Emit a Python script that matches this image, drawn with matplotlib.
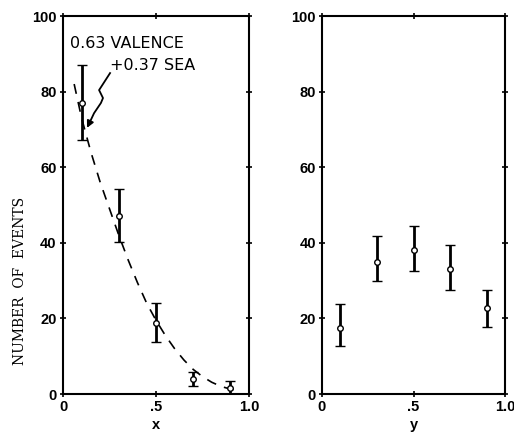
import matplotlib
matplotlib.use("Agg")
import matplotlib.pyplot as plt

# Left panel: x distribution
x_vals = [0.1, 0.3, 0.5, 0.7, 0.9]
x_counts = [77, 47, 18.7, 3.9, 1.5]
x_err_hi = [87, 54.2, 24, 5.7, 3.4]
x_err_lo = [67.2, 40.1, 13.7, 2.2, 0.0]

# Dashed model curve
curve_x = [0.06, 0.1, 0.15, 0.2, 0.25, 0.3, 0.35, 0.4, 0.45, 0.5, 0.55, 0.6,
           0.65, 0.7, 0.75, 0.8, 0.85, 0.9, 0.93]
curve_y = [82, 73, 64, 56, 49, 42, 35.5, 29.5, 24, 19.5, 15.5, 12,
           9, 6.5, 4.6, 3.1, 2.0, 1.3, 1.0]

# Right panel: y distribution
y_vals = [0.1, 0.3, 0.5, 0.7, 0.9]
y_counts = [17.5, 35, 38, 33, 22.8]
y_err_hi = [23.8, 41.8, 44.5, 39.5, 27.5]
y_err_lo = [12.6, 29.8, 32.5, 27.6, 17.6]

# Annotation arrow path (data coords, left panel)
arrow_x = [0.253, 0.194, 0.215, 0.204, 0.167, 0.145, 0.129]
arrow_y = [84.9, 80.4, 78.3, 77.0, 74.3, 72.0, 70.4]

yticks = [0, 20, 40, 60, 80, 100]
xticks = [0, 0.5, 1.0]
xticklabels = ["0", ".5", "1.0"]

fig = plt.figure(figsize=(5.14, 4.38), dpi=100)
axL = fig.add_axes([63/514, 44/438, 186/514, 378/438])
axR = fig.add_axes([322/514, 44/438, 183/514, 378/438])

tickfont = dict(family="Liberation Sans", size=10.5, weight="bold")

def style(ax, xlabel):
    ax.set_xlim(0, 1.0)
    ax.set_ylim(0, 100)
    ax.set_yticks(yticks)
    ax.set_yticklabels([str(t) for t in yticks], **tickfont)
    ax.set_xticks(xticks)
    ax.set_xticklabels(xticklabels, **tickfont)
    ax.tick_params(direction="inout", length=5, width=1.2, top=True, right=True,
                   labeltop=False, labelright=False, pad=2)
    for s in ax.spines.values():
        s.set_linewidth(1.5)
    ax.set_xlabel(xlabel, fontsize=10.5, fontweight="bold",
                  family="Liberation Sans", labelpad=3)

def draw_points(ax, xs, ys, hi, lo):
    lower = [y - l for y, l in zip(ys, lo)]
    upper = [h - y for y, h in zip(ys, hi)]
    ax.errorbar(xs, ys, yerr=[lower, upper], fmt="o", color="black",
                ecolor="black", elinewidth=2.0, capsize=3.5, capthick=1.5,
                markersize=4, markerfacecolor="white", markeredgewidth=1.0,
                zorder=3)

style(axL, "x")
style(axR, "y")

axL.plot(curve_x, curve_y, linestyle=(0, (6, 5)), color="black", linewidth=1.2)
draw_points(axL, x_vals, x_counts, x_err_hi, x_err_lo)
draw_points(axR, y_vals, y_counts, y_err_hi, y_err_lo)

axL.plot(arrow_x[:-1], arrow_y[:-1], color="black", linewidth=1.3)
axL.annotate("", xy=(arrow_x[-1], arrow_y[-1]), xytext=(arrow_x[-2], arrow_y[-2]),
             arrowprops=dict(arrowstyle="-|>", color="black", lw=1.3,
                             mutation_scale=10, shrinkA=0, shrinkB=0))

axL.text(0.035, 92.6, "0.63 VALENCE", fontsize=11.5, family="DejaVu Sans",
         ha="left", va="center")
axL.text(0.25, 86.8, "+0.37 SEA", fontsize=11.5, family="DejaVu Sans",
         ha="left", va="center")

fig.text(20/514, (438-281)/438, "NUMBER  OF  EVENTS", rotation=90,
         fontsize=10, family="DejaVu Serif", ha="center", va="center")

fig.savefig("out.png", dpi=100)
